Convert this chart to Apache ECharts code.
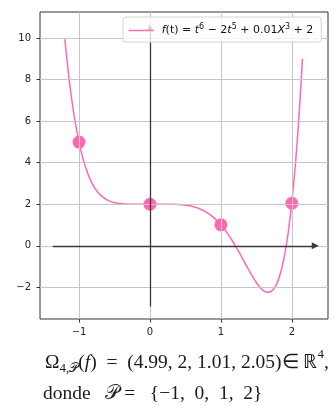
<!DOCTYPE html>
<html>
<head>
<meta charset="utf-8">
<script src="https://cdn.jsdelivr.net/npm/echarts@6/dist/echarts.min.js"></script>
<style>
  html, body { margin: 0; padding: 0; background: #fff; }
  #chart { width: 335px; height: 408px; }
</style>
</head>
<body>
<div id="chart"></div>
<script>
// Sampled curve f(t) = t^6 - 2t^5 + 0.01t^3 + 2, as [t, f(t)] pairs
const curveT = [-1.2, -1.15, -1.1, -1.05, -1.0, -0.95, -0.9, -0.85, -0.8, -0.75, -0.7, -0.6, -0.5, -0.4, -0.3, -0.2, -0.1,
  0, 0.1, 0.2, 0.3, 0.4, 0.5, 0.6, 0.7, 0.8, 0.9, 1.0, 1.05, 1.1, 1.15, 1.2, 1.25, 1.3, 1.35, 1.4, 1.45, 1.5, 1.55,
  1.6, 1.65, 1.7, 1.75, 1.8, 1.85, 1.9, 1.95, 2.0, 2.05, 2.1, 2.15];
const curveF = [9.945, 8.321, 6.979, 5.881, 4.99, 4.274, 3.705, 3.258, 2.912, 2.648, 2.450, 2.200, 2.077, 2.024, 2.005, 2.001, 2.000,
  2.000, 2.000, 1.9995, 1.996, 1.984, 1.954, 1.893, 1.785, 1.612, 1.358, 1.01, 0.799, 0.564, 0.306, 0.027, -0.269, -0.577, -0.890, -1.199, -1.495, -1.763, -1.989,
  -2.153, -2.236, -2.210, -2.050, -1.721, -1.187, -0.408, 0.664, 2.08, 3.896, 6.177, 8.990];

// Evaluation nodes P and the sampled values
const nodes = [-1, 0, 1, 2];
const nodeValues = [4.99, 2, 1.01, 2.05];

// Tick positions
const xTicks = [-1, 0, 1, 2];
const yTicks = [-2, 0, 2, 4, 6, 8, 10];

// Coordinate-axis arrows (start, end)
const xArrow = [-1.37, 2.33];
const yArrow = [-2.92, 10.5];

const pink = '#ff69b4';
const ink = '#1a1a1a';
const minus = v => String(v).replace('-', '\u2212');

const chart = echarts.init(document.getElementById('chart'), null, { renderer: 'canvas' });

const serif = 'Liberation Serif';
const mainSize = 19.5;
const en = '\u2002';

chart.setOption({
  animation: false,
  backgroundColor: '#ffffff',
  grid: {
    left: 40, right: 7, top: 12, bottom: 89,
    show: true, borderColor: '#333', borderWidth: 1, backgroundColor: 'transparent'
  },
  xAxis: {
    type: 'value', min: -1.55, max: 2.51,
    axisLine: { show: false, onZero: false },
    axisTick: { show: true, customValues: xTicks, length: 3.5, lineStyle: { color: '#333' } },
    axisLabel: { customValues: xTicks, formatter: minus, color: '#222', fontSize: 10,
      fontFamily: 'DejaVu Sans', margin: 8 },
    splitLine: { show: false }
  },
  yAxis: {
    type: 'value', min: -3.52, max: 11.25,
    axisLine: { show: false, onZero: false },
    axisTick: { show: true, customValues: yTicks, length: 3.5, lineStyle: { color: '#333' } },
    axisLabel: { customValues: yTicks, formatter: minus, color: '#222', fontSize: 10,
      fontFamily: 'DejaVu Sans', margin: 9 },
    splitLine: { show: false }
  },
  legend: {
    data: ['f'],
    left: 123, top: 17, z: 10,
    padding: [6, 8, 6, 5],
    itemWidth: 25, itemHeight: 14,
    backgroundColor: 'rgba(255,255,255,0.8)',
    borderColor: '#d4d4d4', borderWidth: 1, borderRadius: 3,
    itemStyle: { opacity: 0 },
    lineStyle: { color: pink, width: 1.5, opacity: 1 },
    formatter: () => '{i|f}(t) = {i|t}{s|6} \u2212 2{i|t}{s|5} + 0.01{i|X}{s|3} + 2',
    textStyle: {
      fontFamily: 'DejaVu Sans', fontSize: 11, color: '#111', padding: [0, 0, 0, 3],
      rich: {
        i: { fontFamily: 'DejaVu Sans', fontStyle: 'italic', fontSize: 11, color: '#111' },
        s: { fontFamily: 'DejaVu Sans', fontSize: 8, color: '#111', padding: [0, 0, 7, 0] }
      }
    }
  },
  series: [
    {
      // grid lines at tick positions
      type: 'line', data: [], z: 1, silent: true,
      markLine: {
        silent: true, symbol: 'none', animation: false,
        label: { show: false },
        lineStyle: { color: '#c6c6c6', width: 1, type: 'solid' },
        data: xTicks.map(v => ({ xAxis: v })).concat(yTicks.map(v => ({ yAxis: v })))
      }
    },
    {
      // coordinate axes drawn as arrows through the origin
      type: 'line', data: [], z: 2, silent: true,
      markLine: {
        silent: true, symbol: ['none', 'triangle'], symbolSize: 7, animation: false,
        label: { show: false },
        lineStyle: { color: '#3a3a3a', width: 1.3, type: 'solid' },
        data: [
          [{ coord: [xArrow[0], 0] }, { coord: [xArrow[1], 0] }],
          [{ coord: [0, yArrow[0]] }, { coord: [0, yArrow[1]] }]
        ]
      }
    },
    {
      name: 'f', type: 'line', z: 3,
      data: curveT.map((t, i) => [t, curveF[i]]),
      smooth: 0.2, symbol: 'none', showSymbol: false,
      lineStyle: { color: pink, width: 1.5 },
      itemStyle: { color: pink }
    },
    {
      name: 'nodes', type: 'scatter', z: 4,
      data: nodes.map((t, i) => [t, nodeValues[i]]),
      symbol: 'circle', symbolSize: 13,
      itemStyle: { color: pink, opacity: 1 }
    }
  ],
  graphic: [
    {
      type: 'text', left: 45, top: 348,
      style: {
        text: '{n|\u03A9}{sub|4,\uD835\uDCAB}{n|(}{it|f}{n|)  =  (4.99, 2, 1.01, 2.05)\u2208 \u211D}{sup|4}{n|,}',
        fontFamily: serif, fontSize: mainSize, fill: ink,
        rich: {
          n: { fontFamily: serif, fontSize: mainSize, lineHeight: 24, fill: ink },
          it: { fontFamily: serif, fontStyle: 'italic', fontSize: mainSize, lineHeight: 24, fill: ink },
          sub: { fontFamily: serif, fontSize: 13, lineHeight: 12, fill: ink, padding: [12, 0, 0, 0] },
          sup: { fontFamily: serif, fontSize: 13, lineHeight: 8, fill: ink, padding: [0, 0, 16, 0] }
        }
      }
    },
    {
      type: 'text', left: 43, top: 384,
      style: {
        text: 'donde' + en + ' \uD835\uDCAB = ' + en + '{\u22121,' + en + '0,' + en + '1,' + en + '2}',
        fontFamily: serif, fontSize: mainSize, fill: ink
      }
    }
  ]
});
</script>
</body>
</html>
